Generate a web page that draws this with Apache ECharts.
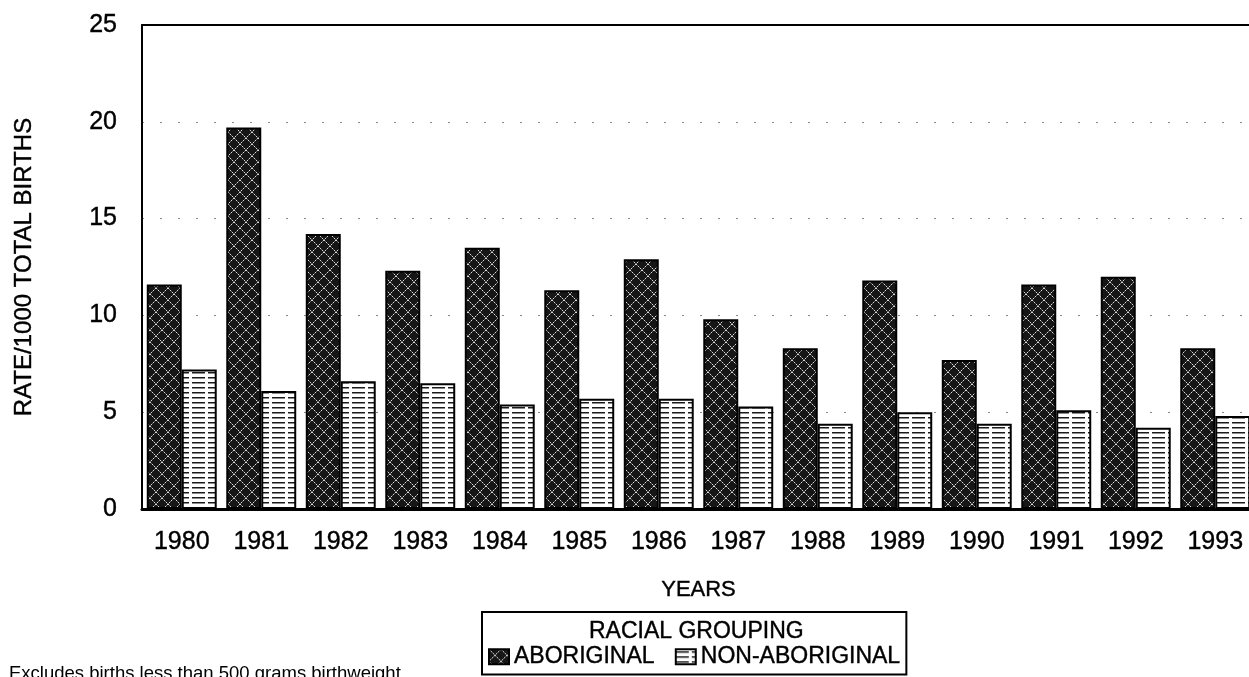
<!DOCTYPE html>
<html>
<head>
<meta charset="utf-8">
<script src="https://cdn.jsdelivr.net/npm/echarts@6/dist/echarts.min.js"></script>
<style>
html,body{margin:0;padding:0;background:#fff;}
#chart{width:1249px;height:677px;}
</style>
</head>
<body>
<div id="chart"></div>
<script>
// ---- data ----
const years = ['1980','1981','1982','1983','1984','1985','1986','1987','1988','1989','1990','1991','1992','1993'];
const aboriginal = [11.6, 19.7, 14.2, 12.3, 13.5, 11.3, 12.9, 9.8, 8.3, 11.8, 7.7, 11.6, 12.0, 8.3];
const nonAboriginal = [7.2, 6.1, 6.6, 6.5, 5.4, 5.7, 5.7, 5.3, 4.4, 5.0, 4.4, 5.1, 4.2, 4.8];
const yTicks = [0, 5, 10, 15, 20, 25];

const FONT = "'Liberation Sans', Arial, Helvetica, sans-serif";
const INK = {color: '#000', textBorderColor: '#000', textBorderWidth: 0.4};

// ---- fill patterns ----
function crossPattern() {
  const c = document.createElement('canvas');
  c.width = 12; c.height = 12;
  const g = c.getContext('2d');
  g.fillStyle = '#161616';
  g.fillRect(0, 0, 12, 12);
  for (let i = 0; i < 12; i++) {
    g.fillStyle = (i % 2 === 0) ? '#d8d8d8' : '#6a6a6a';
    g.fillRect(i, i, 1, 1);
    g.fillRect(11 - i, i, 1, 1);
  }
  return c;
}
function linePattern() {
  const c = document.createElement('canvas');
  c.width = 16; c.height = 5;
  const g = c.getContext('2d');
  g.fillStyle = '#ffffff';
  g.fillRect(0, 0, 16, 5);
  g.fillStyle = '#1a1a1a';
  g.fillRect(0, 2, 13, 1.5);
  return c;
}

const chart = echarts.init(document.getElementById('chart'), null, {renderer: 'canvas'});

chart.setOption({
  backgroundColor: '#ffffff',
  animation: false,
  textStyle: {fontFamily: FONT, color: '#000'},
  title: [
    {
      text: 'RACIAL GROUPING',
      left: 584, top: 615,
      textStyle: Object.assign({fontFamily: FONT, fontSize: 23, fontWeight: 'normal'}, INK)
    },
    {
      text: 'Excludes births less than 500 grams birthweight',
      left: 9, top: 664,
      padding: 0,
      textStyle: {fontFamily: FONT, fontSize: 18.5, fontWeight: 'normal', color: '#000'}
    }
  ],
  legend: {
    left: 482, top: 612,
    padding: [33, 6, 6, 6],
    borderColor: '#000', borderWidth: 2,
    itemWidth: 20, itemHeight: 15, itemGap: 20,
    icon: 'rect',
    textStyle: Object.assign({fontFamily: FONT, fontSize: 23}, INK),
    data: ['ABORIGINAL', 'NON-ABORIGINAL']
  },
  grid: {left: 142, right: -6, top: 25, bottom: 168, containLabel: false, outerBoundsMode: 'none'},
  xAxis: [
    {
      type: 'category',
      data: years,
      position: 'bottom',
      name: 'YEARS',
      nameLocation: 'middle',
      nameGap: 70,
      nameTextStyle: Object.assign({fontFamily: FONT, fontSize: 22}, INK),
      axisLine: {show: true, lineStyle: {color: '#000', width: 3}},
      axisTick: {show: false},
      axisLabel: Object.assign({fontFamily: FONT, fontSize: 25, margin: 21}, INK),
      splitLine: {show: false}
    },
    {
      type: 'category',
      data: years,
      position: 'top',
      axisLine: {show: true, lineStyle: {color: '#000', width: 2}},
      axisTick: {show: false},
      axisLabel: {show: false},
      splitLine: {show: false}
    }
  ],
  yAxis: {
    type: 'value',
    min: yTicks[0],
    max: yTicks[yTicks.length - 1],
    interval: 5,
    name: 'RATE/1000 TOTAL BIRTHS',
    nameLocation: 'middle',
    nameGap: 106,
    nameTextStyle: Object.assign({fontFamily: FONT, fontSize: 24}, INK),
    axisLine: {show: true, lineStyle: {color: '#000', width: 2}},
    axisTick: {show: false},
    axisLabel: Object.assign({fontFamily: FONT, fontSize: 25, margin: 25}, INK),
    splitLine: {show: true, lineStyle: {color: '#555', width: 1, type: [2, 16], opacity: 0.7}}
  },
  series: [
    {
      name: 'ABORIGINAL',
      type: 'bar',
      data: aboriginal,
      barGap: '0%',
      barCategoryGap: '12%',
      itemStyle: {color: {image: crossPattern(), repeat: 'repeat'}, borderColor: '#000', borderWidth: 2}
    },
    {
      name: 'NON-ABORIGINAL',
      type: 'bar',
      data: nonAboriginal,
      barGap: '0%',
      barCategoryGap: '12%',
      itemStyle: {color: {image: linePattern(), repeat: 'repeat'}, borderColor: '#000', borderWidth: 2}
    }
  ]
});
</script>
</body>
</html>
